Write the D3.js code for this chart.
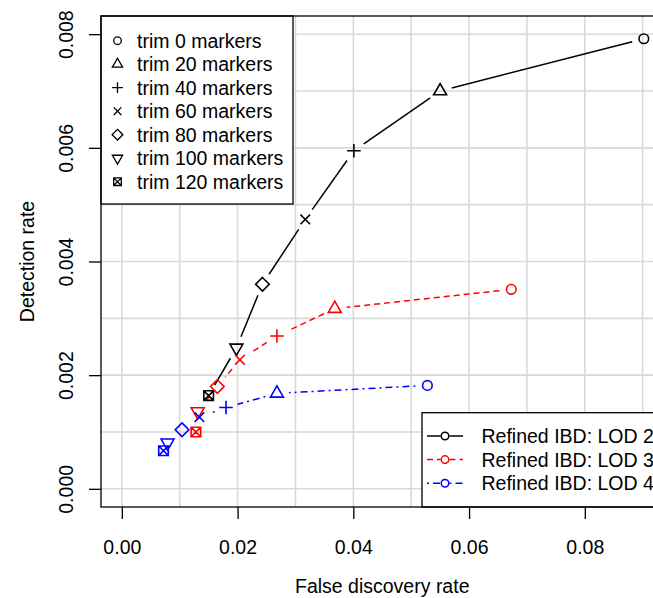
<!DOCTYPE html>
<html lang="en">
<head>
<meta charset="UTF-8">
<title>Detection rate vs false discovery rate</title>
<script src="https://d3js.org/d3.v7.min.js"></script>
<style>
  body { margin: 0; background: #fff; }
  svg { display: block; font-family: "Liberation Sans", Arial, sans-serif; }
</style>
</head>
<body>
<svg id="chart" width="653" height="598"></svg>
<script>
// values, ordered trim 0 .. trim 120
const fdrLod2 = [0.0902, 0.0550, 0.0401, 0.0317, 0.0243, 0.0198, 0.0150];
const drLod2  = [0.00792, 0.00700, 0.00595, 0.00474, 0.00360, 0.00248, 0.00164];
const fdrLod3 = [0.0673, 0.0368, 0.0268, 0.0204, 0.0165, 0.0131, 0.0128];
const drLod3  = [0.00351, 0.00317, 0.00269, 0.00227, 0.00180, 0.00136, 0.00100];
const fdrLod4 = [0.0528, 0.0268, 0.0180, 0.0134, 0.0104, 0.0079, 0.0072];
const drLod4  = [0.00182, 0.00168, 0.00143, 0.00126, 0.00104, 0.00081, 0.00067];

const trimLabels = ["trim 0 markers", "trim 20 markers", "trim 40 markers", "trim 60 markers",
                    "trim 80 markers", "trim 100 markers", "trim 120 markers"];
const trimSymbols = ["circle", "triUp", "plus", "cross", "diamond", "triDown", "boxX"];
const seriesNames = ["Refined IBD: LOD 2", "Refined IBD: LOD 3", "Refined IBD: LOD 4"];
const seriesColors = ["#000000", "#ff0000", "#0000ff"];
const seriesDash = [null, "6,4", "2,4,7,4"];
const xTicks = [0, 0.02, 0.04, 0.06, 0.08];
const yTicks = [0, 0.002, 0.004, 0.006, 0.008];
const xGrid = d3.range(0, 0.0951, 0.01);
const yGrid = d3.range(0, 0.00851, 0.001);

const svg = d3.select("#chart");
const fontSize = 19.5;
const plot = { left: 101, right: 663.5, top: 16, bottom: 507 };

// R style: limits 0..0.09 / 0..0.008 padded by 4%
const x = d3.scaleLinear().domain([-0.0036, 0.0936]).range([plot.left, plot.right]);
const y = d3.scaleLinear().domain([-0.00032, 0.00832]).range([plot.bottom, plot.top]);

const series = [
  { name: seriesNames[0], fdr: fdrLod2, dr: drLod2 },
  { name: seriesNames[1], fdr: fdrLod3, dr: drLod3 },
  { name: seriesNames[2], fdr: fdrLod4, dr: drLod4 }
];

// pch-like symbols, R = base radius
function symbolPath(type, R) {
  const p = d3.path();
  if (type === "circle") {
    p.moveTo(R, 0); p.arc(0, 0, R, 0, 2 * Math.PI);
  } else if (type === "triUp" || type === "triDown") {
    const s = type === "triUp" ? 1 : -1;
    const r = 1.555 * R, xc = 1.347 * R, yc = 0.778 * R;
    p.moveTo(0, -s * r); p.lineTo(xc, s * yc); p.lineTo(-xc, s * yc); p.closePath();
  } else if (type === "plus") {
    const a = 1.414 * R;
    p.moveTo(-a, 0); p.lineTo(a, 0); p.moveTo(0, -a); p.lineTo(0, a);
  } else if (type === "cross") {
    p.moveTo(-R, -R); p.lineTo(R, R); p.moveTo(-R, R); p.lineTo(R, -R);
  } else if (type === "diamond") {
    const a = 1.414 * R;
    p.moveTo(0, -a); p.lineTo(a, 0); p.lineTo(0, a); p.lineTo(-a, 0); p.closePath();
  } else if (type === "boxX") {
    p.rect(-R, -R, 2 * R, 2 * R);
    p.moveTo(-R, -R); p.lineTo(R, R); p.moveTo(-R, R); p.lineTo(R, -R);
  }
  return p.toString();
}

// grid
const grid = svg.append("g").attr("stroke", "#d9d9d9").attr("stroke-width", 1.6);
grid.selectAll("line.vx").data(xGrid).join("line")
  .attr("x1", d => x(d)).attr("x2", d => x(d))
  .attr("y1", plot.top).attr("y2", plot.bottom);
grid.selectAll("line.hy").data(yGrid).join("line")
  .attr("y1", d => y(d)).attr("y2", d => y(d))
  .attr("x1", plot.left).attr("x2", plot.right);

// lines with gaps around points (type = "b")
const gap = 12;
series.forEach((s, si) => {
  const pts = s.fdr.map((f, i) => [x(f), y(s.dr[i])]);
  const segs = [];
  for (let i = 0; i < pts.length - 1; i++) {
    const [x0, y0] = pts[i], [x1, y1] = pts[i + 1];
    const len = Math.hypot(x1 - x0, y1 - y0);
    if (len <= 2 * gap) continue;
    const ux = (x1 - x0) / len, uy = (y1 - y0) / len;
    segs.push([x0 + ux * gap, y0 + uy * gap, x1 - ux * gap, y1 - uy * gap]);
  }
  svg.append("g").selectAll("line").data(segs).join("line")
    .attr("x1", d => d[0]).attr("y1", d => d[1])
    .attr("x2", d => d[2]).attr("y2", d => d[3])
    .attr("stroke", seriesColors[si]).attr("stroke-width", 1.5)
    .attr("stroke-dasharray", seriesDash[si]);
});

// points
series.forEach((s, si) => {
  svg.append("g").selectAll("path").data(s.fdr).join("path")
    .attr("transform", (d, i) => `translate(${x(d)},${y(s.dr[i])})`)
    .attr("d", (d, i) => symbolPath(trimSymbols[i], 4.8))
    .attr("fill", "none")
    .attr("stroke", seriesColors[si]).attr("stroke-width", 1.6);
});

// top-left legend (symbols)
const leg1 = svg.append("g");
leg1.append("rect").attr("x", plot.left).attr("y", plot.top)
  .attr("width", 192).attr("height", 188)
  .attr("fill", "#fff").attr("stroke", "#000").attr("stroke-width", 1.3);
trimLabels.forEach((t, i) => {
  const cy = 40.7 + i * 23.5;
  leg1.append("path").attr("transform", `translate(117.5,${cy})`)
    .attr("d", symbolPath(trimSymbols[i], 3.8))
    .attr("fill", "none").attr("stroke", "#000").attr("stroke-width", 1.3);
  leg1.append("text").attr("x", 137).attr("y", cy + 7)
    .attr("font-size", fontSize).text(t);
});

// bottom-right legend (series)
const leg2 = svg.append("g");
leg2.append("rect").attr("x", 422).attr("y", 412.7)
  .attr("width", plot.right - 422).attr("height", plot.bottom - 412.7)
  .attr("fill", "#fff").attr("stroke", "#000").attr("stroke-width", 1.3);
seriesNames.forEach((n, i) => {
  const cy = 436 + i * 23.6;
  const g = leg2.append("g").attr("stroke", seriesColors[i]).attr("stroke-width", 1.5)
    .attr("fill", "none");
  g.append("line").attr("x1", 427).attr("x2", 440.5).attr("y1", cy).attr("y2", cy)
    .attr("stroke-dasharray", seriesDash[i]);
  g.append("line").attr("x1", 449.5).attr("x2", 463).attr("y1", cy).attr("y2", cy)
    .attr("stroke-dasharray", seriesDash[i]);
  g.append("path").attr("transform", `translate(445,${cy})`)
    .attr("d", symbolPath("circle", 3.8));
  leg2.append("text").attr("x", 481.5).attr("y", cy + 7)
    .attr("font-size", fontSize).attr("fill", "#000").text(n);
});

// box
svg.append("rect").attr("x", plot.left).attr("y", plot.top)
  .attr("width", plot.right - plot.left).attr("height", plot.bottom - plot.top)
  .attr("fill", "none").attr("stroke", "#000").attr("stroke-width", 1.3);

// axes
const xAxis = svg.append("g").attr("transform", `translate(0,${plot.bottom})`)
  .call(d3.axisBottom(x).tickValues(xTicks).tickFormat(d3.format(".2f"))
    .tickSize(12).tickSizeOuter(0).tickPadding(21.5));
xAxis.select(".domain").remove();
xAxis.selectAll("line").attr("stroke-width", 1.3);
xAxis.selectAll("text").attr("font-size", fontSize).attr("font-family", null).attr("fill", "#000");

const yAxis = svg.append("g").attr("transform", `translate(${plot.left},0)`)
  .call(d3.axisLeft(y).tickValues(yTicks).tickFormat(d3.format(".3f"))
    .tickSize(12).tickSizeOuter(0));
yAxis.select(".domain").remove();
yAxis.selectAll("line").attr("stroke-width", 1.3);
yAxis.selectAll("text")
  .attr("font-size", fontSize).attr("font-family", null).attr("fill", "#000")
  .attr("x", 0).attr("y", 0).attr("dy", 0)
  .attr("text-anchor", "middle")
  .attr("transform", "translate(-28,0) rotate(-90)");

// axis titles
svg.append("text").attr("x", (plot.left + plot.right) / 2).attr("y", 593)
  .attr("text-anchor", "middle").attr("font-size", fontSize)
  .text("False discovery rate");
svg.append("text")
  .attr("transform", `translate(34,${(plot.top + plot.bottom) / 2}) rotate(-90)`)
  .attr("text-anchor", "middle").attr("font-size", fontSize)
  .text("Detection rate");
</script>
</body>
</html>
